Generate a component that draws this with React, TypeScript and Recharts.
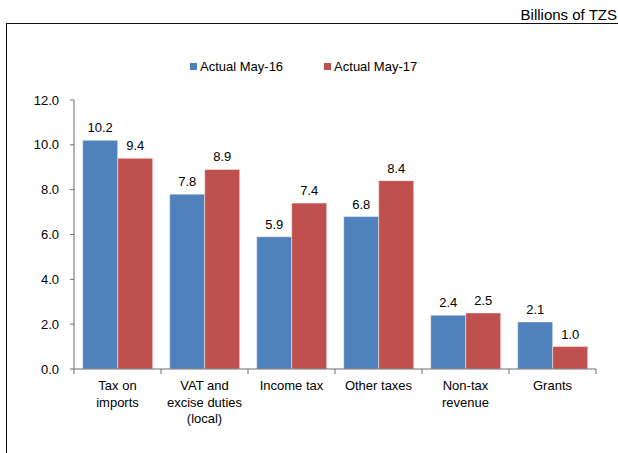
import React from 'react';
import {Bar, BarChart, LabelList, Legend, XAxis, YAxis} from 'recharts';

const categories = ['Tax on imports', 'VAT and excise duties (local)', 'Income tax', 'Other taxes', 'Non-tax revenue', 'Grants'];
const tickLines: string[][] = [
    ['Tax on', 'imports'],
    ['VAT and', 'excise duties', '(local)'],
    ['Income tax'],
    ['Other taxes'],
    ['Non-tax', 'revenue'],
    ['Grants'],
];
const may16 = [10.2, 7.8, 5.9, 6.8, 2.4, 2.1];
const may17 = [9.4, 8.9, 7.4, 8.4, 2.5, 1.0];
const yTicks = [0, 2, 4, 6, 8, 10, 12];

const data = categories.map((name, i) => ({name, may16: may16[i], may17: may17[i]}));

const FONT = '"Liberation Sans", Arial, sans-serif';
const BLUE = '#4F81BD';
const RED = '#C0504D';
const AXIS = '#6e6e6e';

const CategoryTick = (props: any) => {
    const {x, y, payload, index} = props;
    const half = payload && payload.offset ? payload.offset : 43.5;
    const lines = tickLines[index] || [String(payload.value)];
    return (
        <g>
            <line x1={x - half} x2={x - half} y1={y} y2={y + 5} stroke={AXIS}/>
            {index === categories.length - 1 &&
                <line x1={x + half} x2={x + half} y1={y} y2={y + 5} stroke={AXIS}/>}
            <text x={x} y={y + 21} textAnchor="middle" fontSize={13} fill="#000" fontFamily={FONT}>
                {lines.map((line, i) => (
                    <tspan key={i} x={x} dy={i === 0 ? 0 : 16.5}>{line}</tspan>
                ))}
            </text>
        </g>
    );
};

const LegendContent = () => (
    <div style={{display: 'flex', alignItems: 'center', fontFamily: FONT, fontSize: 13, color: '#000', lineHeight: '15px'}}>
        <span style={{width: 7, height: 7, background: BLUE, marginRight: 3}}/>
        <span style={{marginRight: 41}}>Actual May-16</span>
        <span style={{width: 7, height: 7, background: RED, marginRight: 3}}/>
        <span>Actual May-17</span>
    </div>
);

export default function App() {
    return (
        <div style={{position: 'absolute', left: 0, top: 0, width: 618, height: 453, background: '#fff', overflow: 'hidden'}}>
            <div style={{
                position: 'absolute', right: 1, top: 6, fontFamily: FONT, fontSize: 15, lineHeight: '17px', color: '#000',
            }}>
                Billions of TZS
            </div>
            <div style={{
                position: 'absolute', left: 6, top: 23, width: 620, height: 440,
                borderTop: '1.5px solid #111', borderLeft: '1.5px solid #111',
            }}/>
            <div style={{position: 'absolute', left: 0, top: 0}}>
                <BarChart
                    width={618}
                    height={453}
                    data={data}
                    barCategoryGap="10%"
                    barGap={0}
                    margin={{top: 100, right: 22, left: 14, bottom: 24}}
                >
                    <XAxis
                        dataKey="name"
                        height={60}
                        interval={0}
                        tickSize={0}
                        tickMargin={0}
                        tickLine={false}
                        axisLine={{stroke: AXIS}}
                        tick={<CategoryTick/>}
                    />
                    <YAxis
                        width={60}
                        domain={[0, 12]}
                        ticks={yTicks}
                        interval={0}
                        tickSize={4}
                        tickMargin={11}
                        tickFormatter={(v: number) => v.toFixed(1)}
                        axisLine={{stroke: AXIS}}
                        tickLine={{stroke: AXIS}}
                        tick={{fill: '#000', fontSize: 13, fontFamily: FONT}}
                    />
                    <Legend
                        verticalAlign="middle"
                        content={<LegendContent/>}
                        wrapperStyle={{top: 59, left: 190, width: 260, height: 16}}
                    />
                    <Bar dataKey="may16" fill={BLUE} stroke="rgba(255,255,255,0.45)" strokeWidth={1} isAnimationActive={false}>
                        <LabelList dataKey="may16" position="top" offset={8} fill="#000" fontSize={13} fontFamily={FONT}
                                   formatter={(v: any) => Number(v).toFixed(1)}/>
                    </Bar>
                    <Bar dataKey="may17" fill={RED} stroke="rgba(255,255,255,0.45)" strokeWidth={1} isAnimationActive={false}>
                        <LabelList dataKey="may17" position="top" offset={8} fill="#000" fontSize={13} fontFamily={FONT}
                                   formatter={(v: any) => Number(v).toFixed(1)}/>
                    </Bar>
                </BarChart>
            </div>
        </div>
    );
}
